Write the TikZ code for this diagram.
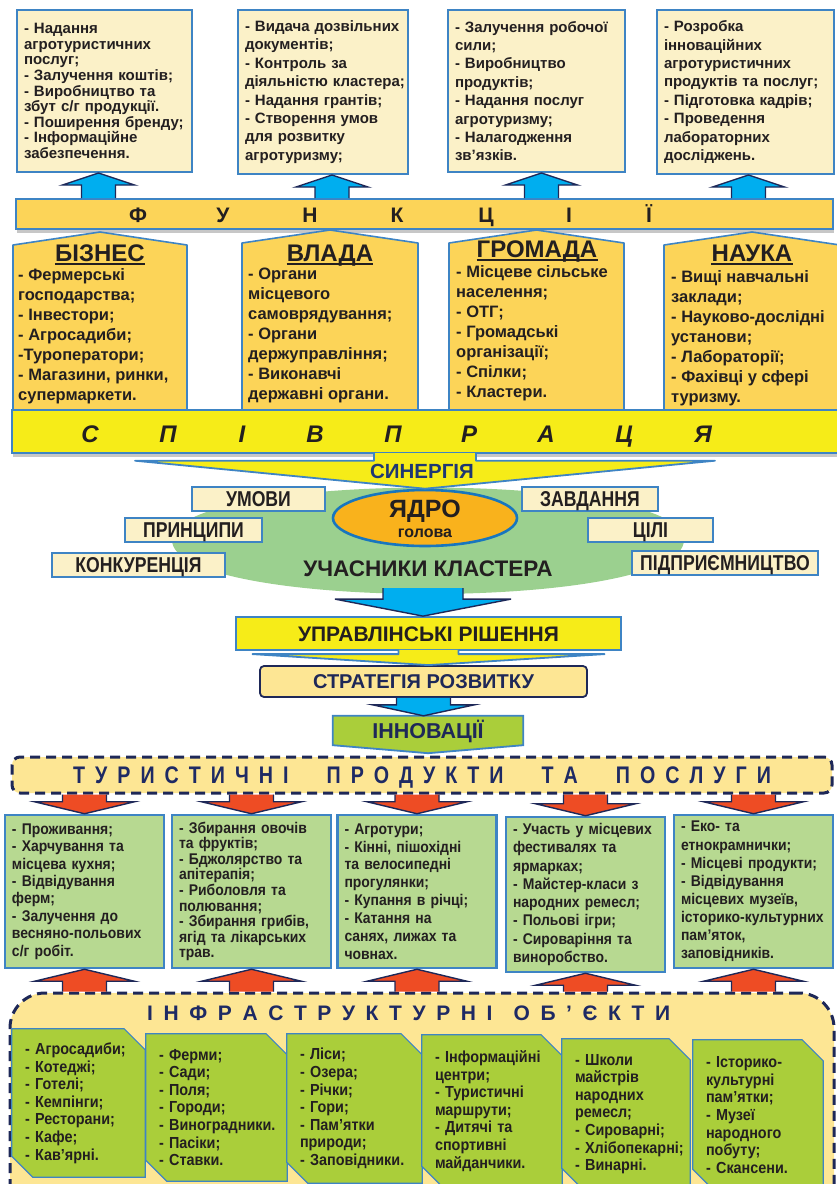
\documentclass[tikz,border=0pt]{standalone}
\usepackage{fontspec}
\setmainfont{Liberation Sans}
\newfontfamily\narrowfont{Liberation Sans}[FakeStretch=0.82]
\newfontfamily\tightfont{Liberation Sans}[FakeStretch=0.9]
\usetikzlibrary{calc,shapes.geometric,shadows,backgrounds}
\hyphenpenalty=10000
\exhyphenpenalty=10000

\definecolor{cream}{RGB}{251,241,200}
\definecolor{gold}{RGB}{252,212,88}
\definecolor{lemon}{RGB}{246,236,24}
\definecolor{skyarrow}{RGB}{0,174,239}
\definecolor{leaf}{RGB}{155,208,143}
\definecolor{coreorange}{RGB}{249,178,28}
\definecolor{coreline}{RGB}{24,118,190}
\definecolor{sand}{RGB}{253,230,148}
\definecolor{lime}{RGB}{170,206,58}
\definecolor{sage}{RGB}{183,217,145}
\definecolor{redarrow}{RGB}{238,76,36}
\definecolor{ink}{RGB}{35,31,32}
\definecolor{synblue}{RGB}{30,55,115}
\definecolor{darknavy}{RGB}{30,40,88}
\definecolor{titlenavy}{RGB}{30,42,100}
\definecolor{boxblue}{RGB}{62,132,196}

\tikzset{
  topbox/.style={rectangle, fill=cream, draw=boxblue, line width=2pt, inner sep=0pt,
    align=left, text=ink, font=\bfseries\fontsize{15}{#1}\selectfont},
  housebox/.style={fill=gold, draw=boxblue, line width=1.6pt, line join=round},
  housetitle/.style={inner sep=0pt, anchor=base, text=ink, font=\bfseries\fontsize{24}{24}\selectfont},
  houseline/.style={line width=2.4pt, ink},
  houselist/.style={inner sep=0pt, anchor=north west, align=left, text=ink,
    font=\bfseries\fontsize{16.5}{20}\selectfont},
  barbox/.style={rectangle, draw=boxblue, line width=2pt, inner sep=0pt,
    drop shadow={shadow xshift=1pt, shadow yshift=-4pt, fill=black!40, opacity=.55}},
  funkletter/.style={inner sep=0pt, anchor=base, text=ink, font=\bfseries\fontsize{21}{21}\selectfont},
  spivletter/.style={inner sep=0pt, anchor=base, text=ink, font=\bfseries\itshape\fontsize{24}{24}\selectfont},
  labelbox/.style={rectangle, fill=cream, draw=boxblue, line width=2pt, inner sep=0pt,
    minimum height=24pt, text height=15.2pt, text depth=0pt, text=ink,
    font=\narrowfont\bfseries\fontsize{21.5}{21.5}\selectfont},
  core/.style={ellipse, fill=coreorange, draw=coreline, line width=2.6pt,
    minimum width=184pt, minimum height=56pt},
  bigword/.style={inner sep=0pt, anchor=base, text=ink, font=\bfseries\fontsize{#1}{#1}\selectfont},
  rishbox/.style={rectangle, fill=lemon, draw=boxblue, line width=1.8pt, inner sep=0pt,
    minimum width=385pt, minimum height=33pt, text height=15pt, text depth=0pt, text=ink,
    font=\bfseries\fontsize{21}{21}\selectfont},
  stratbox/.style={rectangle, rounded corners=4pt, fill=sand, draw=darknavy, line width=1.8pt,
    inner sep=0pt, minimum width=327pt, minimum height=31pt, text height=14.3pt, text depth=0pt,
    text=darknavy, font=\bfseries\fontsize{20}{20}\selectfont},
  inntext/.style={rectangle, inner sep=0pt, minimum width=190pt, minimum height=29pt,
    text height=15.4pt, text depth=0pt, text=darknavy, font=\bfseries\fontsize{21.5}{21.5}\selectfont},
  innshape/.style={fill=lime, draw=boxblue, line width=1.8pt},
  dashbox/.style={rectangle, fill=sand, draw=darknavy, line width=3pt, dash pattern=on 10pt off 6pt},
  spacedtitle/.style={inner sep=0pt, anchor=base west, text=titlenavy},
  gbox/.style={rectangle, fill=sage, draw=boxblue, line width=2.5pt, inner sep=0pt, align=left,
    text=ink, minimum width=159pt, text width=145pt, font=\tightfont\bfseries\fontsize{15.5}{#1}\selectfont},
  ibox/.style={rectangle, inner sep=0pt, align=left, text=ink, font=\tightfont\bfseries\fontsize{16}{17.6}\selectfont},
  isnip/.style={fill=lime, draw=boxblue, line width=1.2pt},
  skyfill/.style={fill=skyarrow},
  redfill/.style={fill=redarrow},
  lemonfill/.style={fill=lemon},
  arrowline/.style={draw=darknavy, line width=1.4pt, line join=miter},
  funnelline/.style={draw=boxblue, line width=1.8pt, line join=round}
}

% block arrow: fill, outline, from, to, shaft half width, head half width, head length
\newcommand{\fatarrow}[7]{%
  \fill[#1] let \p1=#3, \p2=#4, \n1={ifthenelse(\y2>\y1,1,-1)} in
    ({\x2-#5pt},\y1) -- ({\x2-#5pt},{\y2-(\n1)*#7pt}) -- ({\x2-#6pt},{\y2-(\n1)*#7pt})
    -- (\x2,\y2) -- ({\x2+#6pt},{\y2-(\n1)*#7pt}) -- ({\x2+#5pt},{\y2-(\n1)*#7pt})
    -- ({\x2+#5pt},\y1) -- cycle;
  \draw[#2] let \p1=#3, \p2=#4, \n1={ifthenelse(\y2>\y1,1,-1)} in
    ({\x2-#5pt},\y1) -- ({\x2-#5pt},{\y2-(\n1)*#7pt}) -- ({\x2-#6pt},{\y2-(\n1)*#7pt})
    -- (\x2,\y2) -- ({\x2+#6pt},{\y2-(\n1)*#7pt}) -- ({\x2+#5pt},{\y2-(\n1)*#7pt})
    -- ({\x2+#5pt},\y1);
}

% letters with even gaps, | marks a word gap
\def\spacedloop#1{\ifx#1\relax\else\ifx#1|\kern\spacedword\relax\else#1\kern\spacedgap\relax\fi\expandafter\spacedloop\fi}
\newcommand{\spaced}[3]{\def\spacedgap{#1}\def\spacedword{#2}\spacedloop#3\relax}

\begin{document}
\begin{tikzpicture}[x=1pt,y=-1pt]
\useasboundingbox (0,0) rectangle (836,1184);

% functions
\node[topbox=15.6, minimum width=175pt, minimum height=162pt, text width=161pt] (f1) at (104.5,91)
  {-~Надання\\агротуристичних\\послуг;\\-~Залучення~коштів;\\-~Виробництво~та\\збут~с/г~продукції.\\-~Поширення~бренду;\\-~Інформаційне\\забезпечення.};
\node[topbox=18.4, minimum width=170pt, minimum height=164pt, text width=156pt] (f2) at (323,92)
  {-~Видача~дозвільних\\документів;\\-~Контроль~за\\діяльністю~кластера;\\-~Надання~грантів;\\-~Створення~умов\\для~розвитку\\агротуризму;};
\node[topbox=18.4, minimum width=177pt, minimum height=162pt, text width=163pt] (f3) at (536.5,91)
  {-~Залучення~робочої\\сили;\\-~Виробництво\\продуктів;\\-~Надання~послуг\\агротуризму;\\-~Налагодження\\зв’язків.};
\node[topbox=18.4, minimum width=177pt, minimum height=164pt, text width=163pt] (f4) at (745.5,92)
  {-~Розробка\\інноваційних\\агротуристичних\\продуктів~та~послуг;\\-~Підготовка~кадрів;\\-~Проведення\\лабораторних\\досліджень.};

\node[barbox, fill=gold, minimum width=817pt, minimum height=30pt] (funk) at (424.5,214) {};
\foreach \x/\l [count=\i] in {138/Ф,223/У,310/Н,397/К,486/Ц,569/І,649/Ї}
  \node[funkletter] (fl\i) at (\x,222) {\l};

\foreach \b/\d in {f1/-6,f2/9,f3/5,f4/3}
  \fatarrow{skyfill}{arrowline}{($(\b.south |- funk.north)+(\d,0)$)}{($(\b.south)+(\d,0)$)}{17}{36}{12};

% participants
\draw[housebox] (13,410) -- (13,245) -- (100,232) -- (187,245) -- (187,410);
\draw[housebox] (242,410) -- (242,243) -- (330,230) -- (418,243) -- (418,410);
\draw[housebox] (449,410) -- (449,243) -- (536.5,230) -- (624,243) -- (624,410);
\draw[housebox] (664,410) -- (664,245) -- (752,232) -- (840,245) -- (840,410);

\node[housetitle] (bizt) at (100,261) {БІЗНЕС};
\node[housetitle] (vladt) at (330,261) {ВЛАДА};
\node[housetitle] (gromt) at (537,257) {ГРОМАДА};
\node[housetitle] (naukt) at (752,261) {НАУКА};
\foreach \t in {bizt,vladt,gromt,naukt}
  \draw[houseline] ([yshift=-3pt]\t.base west) -- ([yshift=-3pt]\t.base east);

\node[houselist] (bizl) at (18,268) {- Фермерські\\господарства;\\- Інвестори;\\- Агросадиби;\\-Туроператори;\\- Магазини, ринки,\\супермаркети.};
\node[houselist] (vladl) at (248,268) {- Органи\\місцевого\\самоврядування;\\- Органи\\держуправління;\\- Виконавчі\\державні органи.};
\node[houselist] (groml) at (456,265) {- Місцеве сільське\\населення;\\- ОТГ;\\- Громадські\\організації;\\- Спілки;\\- Кластери.};
\node[houselist] (naukl) at (671,270) {- Вищі навчальні\\заклади;\\- Науково-дослідні\\установи;\\- Лабораторії;\\- Фахівці у сфері\\туризму.};

\node[barbox, fill=lemon, minimum width=828pt, minimum height=43pt] (spiv) at (426,431.5) {};
\foreach \x/\l [count=\i] in {90/С,168/П,242/І,315/В,393/П,469/Р,546/А,624/Ц,703/Я}
  \node[spivletter] (sl\i) at (\x,442) {\l};

% cluster
\fill[leaf] (172,540) .. controls (172,470) and (684,470) .. (684,540)
  .. controls (684,612) and (172,612) .. (172,540) -- cycle;
\coordinate (clbot) at (423,588);
\node[core] (yadro) at (425,518) {};
\fatarrow{lemonfill}{funnelline}{($(yadro.north |- spiv.south)+(0,-1)$)}{(yadro.north)}{51}{290}{28};
\node[bigword=20.5, text=synblue] (syn) at (422,478.5) {СИНЕРГІЯ};
\node[bigword=25] (yadrot) at (425,517) {ЯДРО};
\node[bigword=16] (golova) at (425,537) {голова};

\node[labelbox, minimum width=133pt] (umovy) at (258.5,499) {УМОВИ};
\node[labelbox, minimum width=136pt] (zavd) at (590,499) {ЗАВДАННЯ};
\node[labelbox, minimum width=137pt] (pryn) at (193.5,529.5) {ПРИНЦИПИ};
\node[labelbox, minimum width=125pt] (tsili) at (650.5,529.5) {ЦІЛІ};
\node[labelbox, minimum width=173pt] (konk) at (138.5,564.5) {КОНКУРЕНЦІЯ};
\node[labelbox, minimum width=186pt] (pidpr) at (725,562.5) {ПІДПРИЄМНИЦТВО};
\node[bigword=22.5] (uchas) at (428,576) {УЧАСНИКИ КЛАСТЕРА};

% decisions
\node[rishbox] (rish) at (428.5,633.5) {УПРАВЛІНСЬКІ РІШЕННЯ};
\fatarrow{skyfill}{arrowline}{(clbot)}{(clbot |- rish.north)}{40}{88}{17};
\node[stratbox] (strat) at (423.5,681.5) {СТРАТЕГІЯ РОЗВИТКУ};
\fatarrow{lemonfill}{funnelline}{($(rish.south)+(0,-1)$)}{(rish.south |- strat.north)}{30}{176}{11};
\node[inntext] (inn) at (428,730.5) {ІННОВАЦІЇ};
\begin{scope}[on background layer]
  \draw[innshape] (inn.north west) -- (inn.north east) -- (inn.south east)
    -- ([yshift=-8pt]inn.south) -- (inn.south west) -- cycle;
\end{scope}
\fatarrow{skyfill}{arrowline}{(strat.south)}{(strat.south |- inn.north)}{27}{51}{11};

% products
\node[dashbox, rounded corners=8pt, minimum width=820pt, minimum height=36pt] (tur) at (422,775) {};
\node[spacedtitle, font=\narrowfont\bfseries\fontsize{24}{24}\selectfont] (turt) at (73,783.6)
  {\spaced{10pt}{28pt}{ТУРИСТИЧНІ|ПРОДУКТИ|ТА|ПОСЛУГИ}};

\node[gbox=17.4, minimum height=153pt] (g1) at (84.5,891.5)
  {-~Проживання;\\-~Харчування~та\\місцева~кухня;\\-~Відвідування\\ферм;\\-~Залучення~до\\весняно-польових\\с/г~робіт.};
\node[gbox=15.6, minimum height=153pt] (g2) at (251.5,891.5)
  {-~Збирання~овочів\\та~фруктів;\\-~Бджолярство~та\\апітерапія;\\-~Риболовля~та\\полювання;\\-~Збирання~грибів,\\ягід~та~лікарських\\трав.};
\node[gbox=17.9, minimum height=153pt] (g3) at (417,891.5)
  {-~Агротури;\\-~Кінні,~пішохідні\\та~велосипедні\\прогулянки;\\-~Купання~в~річці;\\-~Катання~на\\санях,~лижах~та\\човнах.};
\node[gbox=18.3, minimum height=155pt] (g4) at (585.5,894.5)
  {-~Участь~у~місцевих\\фестивалях~та\\ярмарках;\\-~Майстер-класи~з\\народних~ремесл;\\-~Польові~ігри;\\-~Сироваріння~та\\виноробство.};
\node[gbox=18.1, minimum height=153pt] (g5) at (753.5,891.5)
  {-~Еко-~та\\етнокрамнички;\\-~Місцеві~продукти;\\-~Відвідування\\місцевих~музеїв,\\історико-культурних\\пам’яток,\\заповідників.};

\foreach \g in {g1,g2,g3,g4,g5}
  \fatarrow{redfill}{arrowline}{(\g.north |- tur.south)}{(\g.north)}{22}{50}{12};

% infrastructure
\node[ibox, minimum width=133pt, minimum height=148pt, text width=107pt] (i1) at (78.5,1103)
  {-~Агросадиби;\\-~Котеджі;\\-~Готелі;\\-~Кемпінги;\\-~Ресторани;\\-~Кафе;\\-~Кав’ярні.};
\node[ibox, minimum width=141pt, minimum height=147pt, text width=115pt] (i2) at (216.5,1107.5)
  {-~Ферми;\\-~Сади;\\-~Поля;\\-~Городи;\\-~Виноградники.\\-~Пасіки;\\-~Ставки.};
\node[ibox, minimum width=135pt, minimum height=149pt, text width=109pt] (i3) at (354.5,1108.5)
  {-~Ліси;\\-~Озера;\\-~Річки;\\-~Гори;\\-~Пам’ятки\\природи;\\-~Заповідники.};
\node[ibox, minimum width=140pt, minimum height=152pt, text width=114pt] (i4) at (492,1111)
  {-~Інформаційні\\центри;\\-~Туристичні\\маршрути;\\-~Дитячі~та\\спортивні\\майданчики.};
\node[ibox, minimum width=128pt, minimum height=150pt, text width=102pt] (i5) at (626,1114)
  {-~Школи\\майстрів\\народних\\ремесл;\\-~Сироварні;\\-~Хлібопекарні;\\-~Винарні.};
\node[ibox, minimum width=130pt, minimum height=150pt, text width=104pt] (i6) at (758,1115)
  {-~Історико-\\культурні\\пам’ятки;\\-~Музеї\\народного\\побуту;\\-~Скансени.};

\begin{scope}[on background layer]
  \node[dashbox, rounded corners=35pt, minimum width=824pt, minimum height=240pt] (inf) at (422,1113) {};
  \foreach \b in {i1,i2,i3,i4,i5,i6}
    \draw[isnip] (\b.north west) -- ([xshift=-21pt]\b.north east) -- ([yshift=-21pt]\b.north east)
      -- (\b.south east) -- ([xshift=21pt]\b.south west) -- ([yshift=21pt]\b.south west) -- cycle;
\end{scope}
\foreach \g in {g1,g2,g3,g4,g5}
  \fatarrow{redfill}{arrowline}{(\g.south |- inf.north)}{(\g.south)}{22}{50}{12};
\node[spacedtitle, font=\bfseries\fontsize{21}{21}\selectfont] (inft) at (147,1020.5)
  {\spaced{10.6pt}{10.5pt}{ІНФРАСТРУКТУРНІ|ОБ’ЄКТИ}};
\end{tikzpicture}
\end{document}
